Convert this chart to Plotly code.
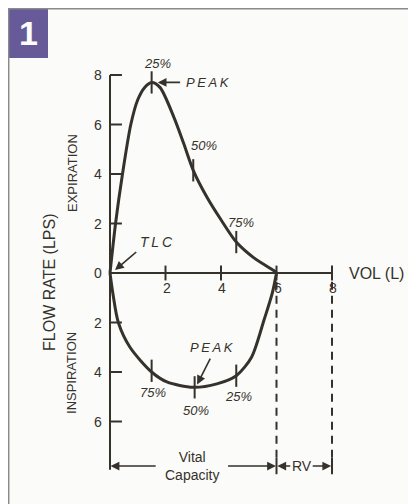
import plotly.graph_objects as go

# ---------------- data ----------------
exp_vol = [0.0, 0.2, 0.45, 0.75, 1.0, 1.25, 1.5, 1.8, 2.3, 2.65, 3.0, 3.5, 4.0, 4.55, 5.2, 5.9, 6.0]
exp_flow = [0.0, 2.0, 4.0, 6.0, 7.0, 7.5, 7.7, 7.5, 6.3, 5.25, 4.15, 3.05, 2.15, 1.25, 0.6, 0.1, 0.0]
insp_vol = [0.0, 0.1, 0.3, 0.72, 1.5, 2.05, 3.0, 3.85, 4.55, 5.1, 5.55, 5.85, 6.0]
insp_flow = [0.0, -0.8, -2.0, -3.0, -4.0, -4.4, -4.62, -4.48, -4.15, -3.4, -1.9, -0.8, 0.0]

exp_pct_labels = ["25%", "50%", "75%"]
exp_pct_vol = [1.5, 3.0, 4.55]
exp_pct_flow = [7.7, 4.15, 1.25]
insp_pct_labels = ["75%", "50%", "25%"]
insp_pct_vol = [1.5, 3.05, 4.55]
insp_pct_flow = [-3.95, -4.62, -4.15]

y_tick_vals = [8, 6, 4, 2, 0, -2, -4, -6]
y_tick_text = ["8", "6", "4", "2", "0", "2", "4", "6"]
x_tick_vals = [2, 4, 6, 8]
x_tick_text = ["2", "4", "6", "8"]

vital_capacity = 6.0
total_capacity = 8.0

# ---------------- style ----------------
INK = "#35322c"
BG = "#fbfbf9"
FONT = "Liberation Sans, Arial, sans-serif"
OFF = 8                      # page body margin
W, H = 416 - OFF, 504 - OFF
X0PX, XSCALE = 110 - OFF, 27.75
Y0PX, YSCALE = 273 - OFF, 24.75
TS = "&#8201;"               # thin space for letter spacing

xr = [-X0PX / XSCALE, (W - X0PX) / XSCALE]
yr = [(Y0PX - H) / YSCALE, Y0PX / YSCALE]

def px(xp):
    return (xp - OFF) / W

def py(yp):
    return 1 - (yp - OFF) / H

fig = go.Figure()

# curves
fig.add_trace(go.Scatter(x=exp_vol, y=exp_flow, mode="lines",
                         line=dict(color=INK, width=3, shape="spline", smoothing=0.8),
                         hoverinfo="skip"))
fig.add_trace(go.Scatter(x=insp_vol, y=insp_flow, mode="lines",
                         line=dict(color=INK, width=3, shape="spline", smoothing=0.8),
                         hoverinfo="skip"))

# axes lines
y_bottom = -7.95
fig.add_trace(go.Scatter(x=[0, 0], y=[max(y_tick_vals), y_bottom], mode="lines",
                         line=dict(color=INK, width=2), hoverinfo="skip"))
fig.add_trace(go.Scatter(x=[0, max(x_tick_vals)], y=[0, 0], mode="lines",
                         line=dict(color=INK, width=2), hoverinfo="skip"))

# tick marks
tx, ty = [], []
for v in y_tick_vals:
    if v == 0:
        continue
    tx += [0, 0.43, None]
    ty += [v, v, None]
for v in x_tick_vals:
    tx += [v, v, None]
    ty += [0.3, -0.3, None]
for v, f in zip(exp_pct_vol + insp_pct_vol, exp_pct_flow + insp_pct_flow):
    tx += [v, v, None]
    ty += [f + 0.45, f - 0.45, None]
for v in [vital_capacity, total_capacity]:
    tx += [v, v, None]
    ty += [-7.8 + 0.33, -7.8 - 0.33, None]
fig.add_trace(go.Scatter(x=tx, y=ty, mode="lines", line=dict(color=INK, width=2),
                         hoverinfo="skip", connectgaps=False))

# dashed verticals
for v in [vital_capacity, total_capacity]:
    fig.add_trace(go.Scatter(x=[v, v], y=[-0.35, -7.6], mode="lines",
                             line=dict(color=INK, width=2, dash="8px,6px"), hoverinfo="skip"))

ann = []
def txt(x, y, s, size=13, italic=False, xanchor="center", **kw):
    ann.append(dict(x=x, y=y, xref="x", yref="y", text=(f"<i>{s}</i>" if italic else s),
                    showarrow=False, xanchor=xanchor, yanchor="middle",
                    font=dict(family=FONT, size=size, color=INK), **kw))

def arrow(x, y, ax, ay):
    ann.append(dict(x=x, y=y, ax=ax, ay=ay, xref="x", yref="y", axref="x", ayref="y",
                    text="", showarrow=True, arrowhead=2, arrowsize=1.1, arrowwidth=1.6,
                    arrowcolor=INK))

# tick labels
for v, t in zip(y_tick_vals, y_tick_text):
    txt(-0.45, v, t, size=14)
for v, t in zip(x_tick_vals, x_tick_text):
    txt(v + 0.05, -0.62, t, size=14)

# percent labels
for (v, f, s), (dx, dy) in zip(zip(exp_pct_vol, exp_pct_flow, exp_pct_labels),
                               [(0.2, 0.78), (0.39, 1.0), (0.18, 0.8)]):
    txt(v + dx, f + dy, s, italic=True)
for (v, f, s), (dx, dy) in zip(zip(insp_pct_vol, insp_pct_flow, insp_pct_labels),
                               [(0.05, -0.86), (0.05, -0.92), (0.07, -0.85)]):
    txt(v + dx, f + dy, s, italic=True)

# PEAK / TLC
peak_txt = TS.join("PEAK")
txt(2.68, exp_pct_flow[0], peak_txt, size=13, italic=True, xanchor="left")
arrow(1.72, exp_pct_flow[0], 2.58, exp_pct_flow[0])
txt(3.68, -3.0, peak_txt, size=13, italic=True)
arrow(3.14, -4.5, 3.64, -3.4)
txt(1.69, 1.25, TS.join("TLC"), size=14, italic=True)
arrow(0.18, 0.12, 1.0, 0.9)

# axis titles
txt(8.54, 0, "VOL (L)", size=16, xanchor="left")
txt(-2.16, -0.36, "FLOW RATE (LPS)", size=16, textangle=-90)
txt(-1.37, 4.04, "EXPIRATION", size=13, textangle=-90)
txt(-1.37, -4.04, "INSPIRATION", size=13, textangle=-90)

# capacity arrows
yc = -7.8
arrow(0.02, yc, 1.7, yc)
arrow(vital_capacity - 0.02, yc, 4.2, yc)
txt(2.95, yc, "Vital<br>Capacity", size=14)
arrow(vital_capacity + 0.03, yc, 6.55, yc)
arrow(total_capacity - 0.03, yc, 7.25, yc)
txt(6.92, yc, "RV", size=14)

# badge "1"
ann.append(dict(x=px(28), y=py(33), xref="paper", yref="paper", text="<b>1</b>",
                showarrow=False, font=dict(family=FONT, size=34, color="white"),
                xanchor="center", yanchor="middle"))

shapes = [
    dict(type="rect", xref="paper", yref="paper", x0=px(8), x1=px(48),
         y0=py(58), y1=1, fillcolor="#675a98", line=dict(width=0), layer="below"),
    dict(type="line", xref="paper", yref="paper", x0=0, x1=1, y0=py(8.7), y1=py(8.7),
         line=dict(color="#8a8a8a", width=1.5)),
    dict(type="line", xref="paper", yref="paper", x0=px(8.7), x1=px(8.7), y0=0, y1=1,
         line=dict(color="#8a8a8a", width=1.5)),
]

fig.update_layout(
    width=W, height=H, margin=dict(l=0, r=0, t=0, b=0),
    paper_bgcolor=BG, plot_bgcolor=BG, showlegend=False,
    xaxis=dict(range=xr, visible=False, fixedrange=True),
    yaxis=dict(range=yr, visible=False, fixedrange=True),
    annotations=ann, shapes=shapes,
)

fig.write_html("out.html")
